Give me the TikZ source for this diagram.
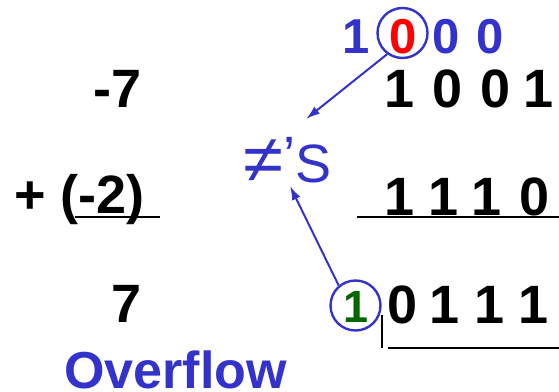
\documentclass[tikz,border=0pt]{standalone}
\usepackage{fontspec}
\setmainfont{Liberation Sans}
\usetikzlibrary{arrows.meta}
\definecolor{myblue}{RGB}{51,51,204}
\definecolor{mygreen}{RGB}{0,102,0}
\begin{document}
\begin{tikzpicture}[x=1pt,y=-1pt,
  big/.style={font=\bfseries\fontsize{54}{60}\selectfont, inner sep=0pt, anchor=base},
  mid/.style={font=\bfseries\fontsize{49}{56}\selectfont, inner sep=0pt, anchor=base},
  ring/.style={circle, draw=myblue, line width=2.4pt, minimum size=50pt, inner sep=0pt},
  rule/.style={line width=2pt},
  link/.style={draw=myblue, line width=2pt, -{Latex[length=14pt,width=9pt]}}]
\useasboundingbox (0,0) rectangle (559,391);
% top carry row
\node[mid, text=myblue] (c1) at (356.5,53) {1};
\node[mid, text=red] (c2) at (403.5,53) {0};
\node[mid, text=myblue] (c3) at (446.5,53) {0};
\node[mid, text=myblue] (c4) at (490.5,53) {0};
\node[ring] (rc) at (402.5,33) {};
% row 1001
\node[big] (a1) at (400,107) {1};
\node[big] (a2) at (447.5,107) {0};
\node[big] (a3) at (495.5,107) {0};
\node[big] (a4) at (538.5,107) {1};
\node[big, anchor=base east] (m7) at (142,107) {-7};
% row 1110
\node[big] (b1) at (400,215) {1};
\node[big] (b2) at (443.5,215) {1};
\node[big] (b3) at (486.5,215) {1};
\node[big] (b4) at (535,215) {0};
\node[big, anchor=base west] (m2) at (14,213) {+ (-2)};
\draw[rule] (75,217) -- (160,217);
\draw[rule] (357,217) -- (559,217);
% result row
\node[font=\bfseries\fontsize{45}{52}\selectfont, inner sep=0pt, anchor=base, text=mygreen] (g1) at (356.5,322) {1};
\node[ring] (gc) at (355.5,305.5) {};
\node[big] (r1) at (402.5,323) {0};
\node[big] (r2) at (445,323) {1};
\node[big] (r3) at (489.5,323) {1};
\node[big] (r4) at (533.5,323) {1};
\node[big, anchor=base east] (p7) at (142,322) {7};
\draw[rule] (382,315) -- (382,348);
\draw[rule] (388,348) -- (559,348);
% label
\node[font=\fontsize{54}{60}\selectfont, inner sep=0pt, anchor=base west, text=myblue] (ne) at (243,182) {\scalebox{1.35}[1.25]{≠}\raisebox{8pt}{’}S};
\node[font=\bfseries\fontsize{52}{58}\selectfont, inner sep=0pt, anchor=base west, text=myblue] (ov) at (64,388) {Overflow};
% arrows
\coordinate (t1) at (306,119);
\coordinate (t2) at (290,186);
\draw[link] (rc.-126) -- (t1);
\draw[link] (gc.130) -- (t2);
\end{tikzpicture}
\end{document}
